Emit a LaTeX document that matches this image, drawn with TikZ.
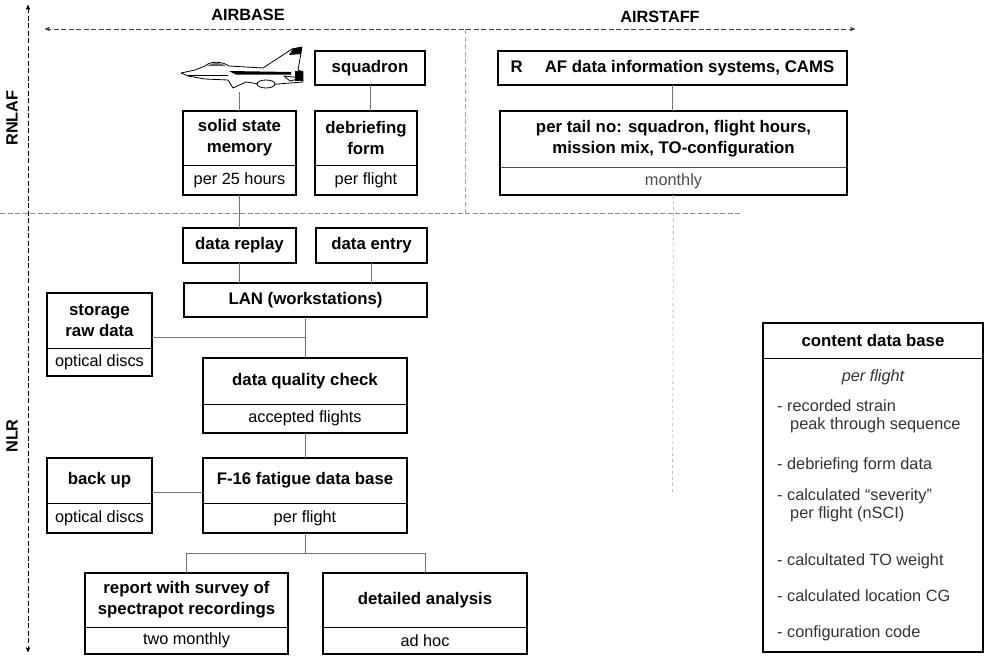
\documentclass[tikz,border=0pt]{standalone}
\usepackage{fontspec}
\setmainfont{Liberation Sans}
\usetikzlibrary{arrows,positioning}
\tikzset{
  box/.style = {draw, line width=1.8pt, align=center, inner sep=0pt, outer sep=0pt,
    anchor=north west, font=\fontsize{16.8}{21}\selectfont\bfseries},
  head/.style = {align=center, inner sep=0pt, outer sep=0pt, anchor=north west,
    font=\fontsize{16.8}{21}\selectfont\bfseries},
  sub/.style = {draw, line width=0.9pt, align=center, inner sep=0pt, outer sep=0pt,
    font=\fontsize{16.3}{19}\selectfont},
  frame/.style = {line width=1.8pt},% outer border of a two part box
  link/.style = {black!55, line width=0.8pt},
  axis/.style = {dash pattern=on 5pt off 2.5pt, line width=0.7pt, >=stealth'},
  zone/.style = {font=\fontsize{16.3}{18}\selectfont\bfseries},
  item/.style = {anchor=west, align=left, inner sep=0pt, black!80,
    font=\fontsize{16.3}{18}\selectfont}
}

\begin{document}
\begin{tikzpicture}[x=1pt,y=-1pt]
\useasboundingbox (0,0) rectangle (996,656);

% zones
\coordinate (ax-top) at (28,5);
\coordinate (ax-bot) at (28,652);
\coordinate (hz-left) at (45,29);
\coordinate (hz-right) at (855,29);
\coordinate (split-top) at (465,29);
\coordinate (split-bot) at (465,213);
\draw[axis,<->] (ax-bot) -- (ax-top);
\draw[axis,<->,black!75] (hz-left) -- (hz-right);
\draw[axis,black!45] (0,213) -- (740,213);
\draw[axis,black!35] (split-top) -- (split-bot);
\node[zone] (airbase) at (248,15) {AIRBASE};
\node[zone] (airstaff) at (660,17) {AIRSTAFF};
\node[zone,rotate=90] (rnlaf) at (12,118) {RNLAF};
\node[zone,rotate=90] (nlr) at (12,436) {NLR};

% aircraft
\begin{scope}[line width=0.8pt, line join=round]
  \draw[fill=white] (181,73) -- (195,70) -- (205,66)
    .. controls (210,61) and (222,61) .. (229,66) -- (263,68) -- (292,49)
    -- (302,47) -- (298,70) -- (303,72) -- (303,82) -- (290,83) -- (266,85)
    -- (246,82) -- (233,88) -- (228,80) -- (205,79) -- (188,76) -- cycle;
  \fill[black!60] (207,66) .. controls (212,62) and (221,62) .. (226,66) -- cycle;
  \fill (229,71) -- (291,72) -- (291,74.5) -- (236,74.5) -- cycle;
  \fill (293,48.5) -- (302,47) -- (301,54) -- (289,55) -- cycle;
  \draw[fill=white] (266,84) ellipse (9 and 4);
  \draw[fill=white] (284,76) -- (302,78) -- (290,81) -- cycle;
  \draw (188,75) -- (228,75);
  \fill (295,71) rectangle (303,81);
\end{scope}
\coordinate (jet) at (239.5,92);

% RNLAF side
\node[box, minimum width=110pt, minimum height=34pt] (squadron) at (315,51) {squadron};
\node[head, minimum width=113pt, minimum height=54pt] (ssm) at (183,111) {solid state\\memory};
\node[sub, minimum width=113pt, minimum height=30pt, below=0pt of ssm] (ssm-sub) {per 25 hours};
\node[head, minimum width=102pt, minimum height=54pt] (debrief) at (315,111) {debriefing\\form};
\node[sub, minimum width=102pt, minimum height=30pt, below=0pt of debrief] (debrief-sub) {per flight};
\node[box, minimum width=349pt, minimum height=34pt] (raf) at (498,51)
  {R\hspace{22pt}AF data information systems, CAMS};
\node[head, minimum width=347pt, minimum height=56pt] (tail) at (500,111)
  {per tail no: squadron, flight hours,\\mission mix, TO-configuration};
\node[sub, minimum width=347pt, minimum height=28pt, below=0pt of tail, black!70] (tail-sub) {monthly};

% NLR side
\node[box, minimum width=113pt, minimum height=35pt] (replay) at (183,228) {data replay};
\node[box, minimum width=111pt, minimum height=35pt] (entry) at (316,228) {data entry};
\node[box, minimum width=243pt, minimum height=34pt] (lan) at (184,283) {LAN (workstations)};
\node[head, minimum width=105pt, minimum height=55pt] (storage) at (47,293) {storage\\raw data};
\node[sub, minimum width=105pt, minimum height=28pt, below=0pt of storage] (storage-sub) {optical discs};
\node[head, minimum width=204pt, minimum height=46pt] (quality) at (203,358) {data quality check};
\node[sub, minimum width=204pt, minimum height=29pt, below=0pt of quality] (quality-sub) {accepted flights};
\node[head, minimum width=105pt, minimum height=45pt] (backup) at (47,458) {back up};
\node[sub, minimum width=105pt, minimum height=30pt, below=0pt of backup] (backup-sub) {optical discs};
\node[head, minimum width=204pt, minimum height=45pt] (fatigue) at (203,458) {F-16 fatigue data base};
\node[sub, minimum width=204pt, minimum height=30pt, below=0pt of fatigue] (fatigue-sub) {per flight};
\node[head, minimum width=203pt, minimum height=54pt] (report) at (85,573)
  {report with survey of\\spectrapot recordings};
\node[sub, minimum width=203pt, minimum height=27pt, below=0pt of report] (report-sub) {two monthly};
\node[head, minimum width=204pt, minimum height=54pt] (analysis) at (323,573) {detailed analysis};
\node[sub, minimum width=204pt, minimum height=27pt, below=0pt of analysis] (analysis-sub) {ad hoc};

% content of the data base
\node[head, minimum width=220pt, minimum height=35pt] (content) at (763,323) {content data base};
\node[sub, minimum width=220pt, minimum height=294pt, below=0pt of content] (content-sub) {};
\node[font=\fontsize{16.3}{18}\selectfont\itshape, black!80] (perflight) at (873,377) {per flight};
\foreach \y/\t [count=\i] in {
    416/{- recorded strain\\\hspace*{13pt}peak through sequence},
    465/{- debriefing form data},
    505/{- calculated ``severity''\\\hspace*{13pt}per flight (nSCI)},
    561/{- calcultated TO weight},
    596/{- calculated location CG},
    633/{- configuration code}}
  \node[item] (item\i) at (777,\y) {\t};

\foreach \n in {ssm,debrief,tail,storage,quality,backup,fatigue,report,analysis,content}
  \draw[frame] (\n.north west) rectangle (\n-sub.south east);

% connections
\coordinate (join) at (305,337);
\coordinate (fork) at (305,553);
\coordinate (tail-end) at (672.5,495);
\draw[link] (jet) -- (ssm.north);
\draw[link] (squadron.south) -- (squadron.south |- debrief.north);
\draw[link] (raf.south) -- (raf.south |- tail.north);
\draw[link,black!25,dashed] (tail-sub.south) -- (tail-end);
\draw[link] (ssm-sub.south) -- (ssm-sub.south |- replay.north);
\draw[link] (replay.south) -- (replay.south |- lan.north);
\draw[link] (entry.south) -- (entry.south |- lan.north);
\draw[link] (join |- lan.south) -- (join |- quality.north);
\draw[link] (storage.east |- join) -- (join);
\draw[link] (quality-sub.south -| join) -- (fatigue.north -| join);
\draw[link] ([yshift=-12pt]backup.east) -- ([yshift=-12pt]backup.east -| fatigue.west);
\draw[link] (fatigue-sub.south -| fork) -- (fork);
\draw[link] (report.north |- fork) -- (analysis.north |- fork);
\draw[link] (report.north |- fork) -- (report.north);
\draw[link] (analysis.north |- fork) -- (analysis.north);
\end{tikzpicture}
\end{document}
